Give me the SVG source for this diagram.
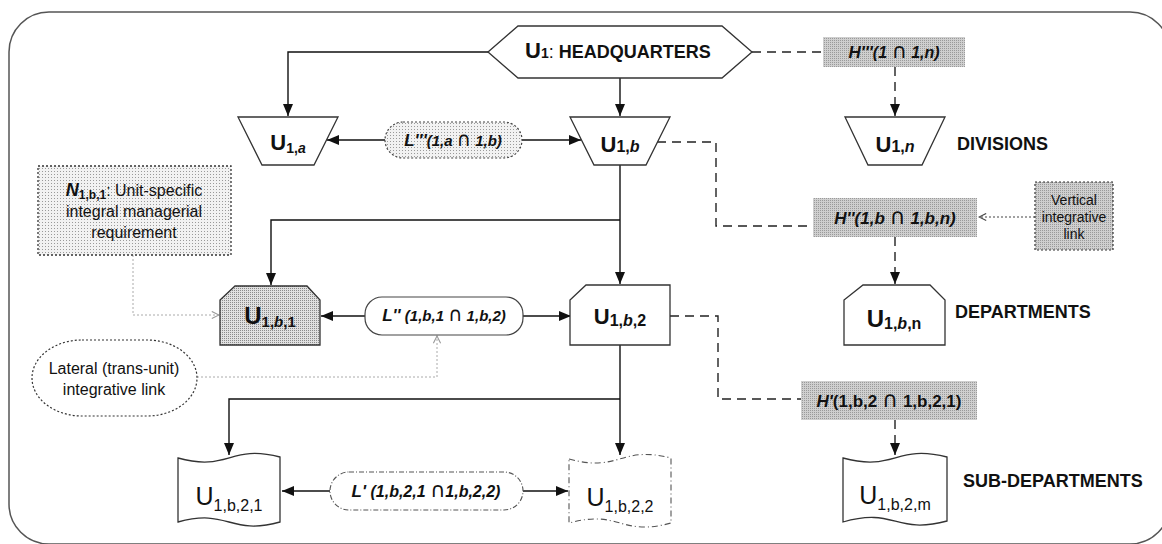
<svg xmlns="http://www.w3.org/2000/svg" width="1162" height="544" viewBox="0 0 1162 544">
<defs>
<pattern id="dotLight" width="3" height="3" patternUnits="userSpaceOnUse"><rect width="3" height="3" fill="#f2f2f2"/><rect width="1" height="1" fill="#9a9a9a"/></pattern>
<pattern id="dotMid" width="2" height="2" patternUnits="userSpaceOnUse"><rect width="2" height="2" fill="#e0e0e0"/><rect width="1" height="1" fill="#8a8a8a"/></pattern>
<pattern id="dotDark" width="2" height="2" patternUnits="userSpaceOnUse"><rect width="2" height="2" fill="#cfcfcf"/><rect width="1" height="1" fill="#9a9a9a"/></pattern>
<marker id="arr" viewBox="0 0 12 10" refX="12" refY="5" markerWidth="12" markerHeight="10" markerUnits="userSpaceOnUse" orient="auto"><path d="M0,0 L12,5 L0,10 Z" fill="#111"/></marker>
<marker id="open" viewBox="0 0 10 10" refX="9" refY="5" markerWidth="9" markerHeight="9" markerUnits="userSpaceOnUse" orient="auto"><path d="M1,1 L9,5 L1,9" fill="none" stroke="#444" stroke-width="1.2"/></marker>
<marker id="openLight" viewBox="0 0 10 10" refX="9" refY="5" markerWidth="9" markerHeight="9" markerUnits="userSpaceOnUse" orient="auto"><path d="M1,1 L9,5 L1,9" fill="none" stroke="#999" stroke-width="1.2"/></marker>
</defs>
<style>
text{font-family:"Liberation Sans",Arial,sans-serif;fill:#111}
.shape{fill:#fff;stroke:#333;stroke-width:1.3}
.b{font-weight:bold}
.bi{font-weight:bold;font-style:italic}
.cap{font-family:"DejaVu Sans",sans-serif;font-style:normal;font-weight:normal;font-size:1.3em}
.lbl{font-size:18px;font-weight:bold}
.solid{fill:none;stroke:#111;stroke-width:1.4}
.dash{fill:none;stroke:#222;stroke-width:1.4;stroke-dasharray:9,6}
.dot{fill:none;stroke:#444;stroke-width:1.2;stroke-dasharray:2,2}
.faint{fill:none;stroke:#aaa;stroke-width:1;stroke-dasharray:2,2}
.hbox{fill:url(#dotDark);stroke:none}
</style>
<rect x="9" y="12" width="1161" height="532" rx="40" fill="none" stroke="#555" stroke-width="1.5"/>

<g id="connectors">
<path class="solid" d="M488,52 H288 V116" marker-end="url(#arr)"/>
<path class="solid" d="M620,78 V116" marker-end="url(#arr)"/>
<path class="solid" d="M385,140 H327" marker-end="url(#arr)"/>
<path class="solid" d="M522,140 H581" marker-end="url(#arr)"/>
<path class="solid" d="M620,165 V284" marker-end="url(#arr)"/>
<path class="solid" d="M620,220 H271 V285" marker-end="url(#arr)"/>
<path class="solid" d="M365,316 H321" marker-end="url(#arr)"/>
<path class="solid" d="M523,316 H571" marker-end="url(#arr)"/>
<path class="solid" d="M620,345 V455" marker-end="url(#arr)"/>
<path class="solid" d="M620,399 H229 V455" marker-end="url(#arr)"/>
<path class="solid" d="M330,491 H282" marker-end="url(#arr)"/>
<path class="solid" d="M523,491 H568" marker-end="url(#arr)"/>
<path class="dash" d="M752,52 H823"/>
<path class="dash" d="M895,67 V116" marker-end="url(#arr)"/>
<path class="dash" d="M657,142 H716 V226 H813"/>
<path class="dash" d="M895,237 V284" marker-end="url(#arr)"/>
<path class="dash" d="M670,316 H718 V399 H801"/>
<path class="dash" d="M895,420 V455" marker-end="url(#arr)"/>
<path class="dot" d="M1035,217 H979" marker-end="url(#open)"/>
<path class="faint" d="M133,255 V315 H219" marker-end="url(#openLight)"/>
<path class="faint" d="M197,377 H437 V336" marker-end="url(#openLight)"/>
</g>

<g id="hq">
<path class="shape" d="M488,52 L518,26 H722 L752,52 L722,78 H518 Z"/>
<text x="525" y="58"><tspan class="b" font-size="22">U</tspan><tspan class="b" font-size="14">1</tspan><tspan font-size="18">: </tspan><tspan class="b" font-size="18"> HEADQUARTERS</tspan></text>
</g>

<g id="u1a">
<path class="shape" d="M238,117 H338 L314,165 H262 Z"/>
<text x="288" y="150" text-anchor="middle"><tspan class="b" font-size="22">U</tspan><tspan class="b" font-size="14" dy="3">1,</tspan><tspan class="bi" font-size="14">a</tspan></text>
</g>

<g id="lppp">
<rect x="385" y="122" width="137" height="36" rx="18" fill="url(#dotLight)" stroke="#444" stroke-width="1.2" stroke-dasharray="2,2"/>
<text x="453" y="146" text-anchor="middle" class="bi" font-size="15"><tspan font-size="17">L'''</tspan>(1,a <tspan class="cap">∩</tspan> 1,b)</text>
</g>

<g id="u1b">
<path class="shape" d="M570,117 H670 L646,165 H594 Z"/>
<text x="620" y="152" text-anchor="middle"><tspan class="b" font-size="22">U</tspan><tspan class="b" font-size="16">1,</tspan><tspan class="bi" font-size="16">b</tspan></text>
</g>

<g id="hppp">
<rect class="hbox" x="823" y="37" width="142" height="30"/>
<text x="894" y="58" text-anchor="middle" class="bi" font-size="16"><tspan font-size="17">H'''</tspan>(1 <tspan class="cap">∩</tspan> 1,n)</text>
</g>

<g id="u1n">
<path class="shape" d="M845,117 H945 L922,165 H868 Z"/>
<text x="895" y="152" text-anchor="middle"><tspan class="b" font-size="22">U</tspan><tspan class="b" font-size="16">1,</tspan><tspan class="bi" font-size="16">n</tspan></text>
</g>
<text id="divisions" x="957" y="150" class="lbl">DIVISIONS</text>

<g id="nbox">
<rect x="38" y="166" width="193" height="89" fill="url(#dotLight)" stroke="#333" stroke-width="1.3" stroke-dasharray="2,2"/>
<text x="134" y="196" text-anchor="middle" font-size="16"><tspan class="bi" font-size="18">N</tspan><tspan class="b" font-size="12" dy="3">1,b,1</tspan><tspan dy="-3">: Unit-specific</tspan></text>
<text x="134" y="217" text-anchor="middle" font-size="16">integral managerial</text>
<text x="134" y="238" text-anchor="middle" font-size="16">requirement</text>
</g>

<g id="hpp">
<rect class="hbox" x="813" y="198" width="164" height="39"/>
<text x="895" y="224" text-anchor="middle" class="bi" font-size="17">H''(1,b <tspan class="cap">∩</tspan> 1,b,n)</text>
</g>

<g id="vlink">
<rect x="1035" y="182" width="78" height="68" fill="url(#dotDark)" stroke="#333" stroke-width="1.2" stroke-dasharray="2,2"/>
<text x="1074" y="205" text-anchor="middle" font-size="14">Vertical</text>
<text x="1074" y="222" text-anchor="middle" font-size="14">integrative</text>
<text x="1074" y="239" text-anchor="middle" font-size="14">link</text>
</g>

<g id="u1b1">
<path d="M235,286 H307 L320,300 V345 H220 V300 Z" fill="url(#dotMid)" stroke="#333" stroke-width="1.3"/>
<text x="270" y="324" text-anchor="middle"><tspan class="b" font-size="24">U</tspan><tspan class="b" font-size="15" dy="3">1,</tspan><tspan class="bi" font-size="15">b</tspan><tspan class="b" font-size="15">,1</tspan></text>
</g>

<g id="lpp">
<rect x="365" y="297" width="158" height="38" rx="17" fill="#fff" stroke="#444" stroke-width="1.2"/>
<text x="444" y="321" text-anchor="middle" class="bi" font-size="15"><tspan font-size="17">L''</tspan> (1,b,1 <tspan class="cap">∩</tspan> 1,b,2)</text>
</g>

<g id="u1b2">
<path class="shape" d="M586,285 H670 V345 H570 V300 Z"/>
<text x="620" y="324" text-anchor="middle"><tspan class="b" font-size="22">U</tspan><tspan class="b" font-size="16" dy="2">1,</tspan><tspan class="bi" font-size="16">b</tspan><tspan class="b" font-size="16">,2</tspan></text>
</g>

<g id="u1bn">
<path class="shape" d="M863,285 H930 L945,300 V345 H844 V300 Z"/>
<text x="894" y="327" text-anchor="middle"><tspan class="b" font-size="24">U</tspan><tspan class="b" font-size="16" dy="2">1,</tspan><tspan class="bi" font-size="16">b</tspan><tspan class="b" font-size="16">,n</tspan></text>
</g>
<text id="departments" x="955" y="318" class="lbl">DEPARTMENTS</text>

<g id="lateral">
<rect x="32" y="340" width="165" height="76" rx="50" ry="38" fill="#fff" stroke="#333" stroke-width="1.2" stroke-dasharray="2,2"/>
<text x="114" y="374" text-anchor="middle" font-size="16">Lateral (trans-unit)</text>
<text x="114" y="395" text-anchor="middle" font-size="16">integrative link</text>
</g>

<g id="hp">
<rect class="hbox" x="801" y="381" width="176" height="39"/>
<text x="889" y="407" text-anchor="middle" font-size="17"><tspan class="bi">H'</tspan><tspan class="b">(1,b,2 <tspan class="cap">∩</tspan> 1,b,2,1)</tspan></text>
</g>

<g id="u1b21">
<path class="shape" d="M178,458 C229,472 229,444 280,457 V522 C229,536 229,508 178,522 Z"/>
<text x="229" y="505" text-anchor="middle"><tspan font-size="25">U</tspan><tspan font-size="16" dy="6">1,b,2,1</tspan></text>
</g>

<g id="lp">
<rect x="330" y="472" width="193" height="38" rx="19" fill="#fff" stroke="#555" stroke-width="1.1" stroke-dasharray="5,2,1,2"/>
<text x="426" y="497" text-anchor="middle" class="bi" font-size="16"><tspan font-size="17">L'</tspan> (1,b,2,1 <tspan class="cap">∩</tspan>1,b,2,2)</text>
</g>

<g id="u1b22">
<path d="M569,459 C620,473 620,445 671,458 V523 C620,537 620,509 569,523 Z" fill="#fff" stroke="#555" stroke-width="1.1" stroke-dasharray="6,3,1,3"/>
<text x="620" y="506" text-anchor="middle"><tspan font-size="25">U</tspan><tspan font-size="16" dy="6">1,b,2,2</tspan></text>
</g>

<g id="u1b2m">
<path class="shape" d="M843,458 C895,472 895,444 947,457 V521 C895,535 895,507 843,522 Z"/>
<text x="895" y="504" text-anchor="middle"><tspan font-size="25">U</tspan><tspan font-size="16" dy="6">1,b,2,m</tspan></text>
</g>
<text id="subdepartments" x="963" y="487" class="lbl">SUB-DEPARTMENTS</text>
</svg>
